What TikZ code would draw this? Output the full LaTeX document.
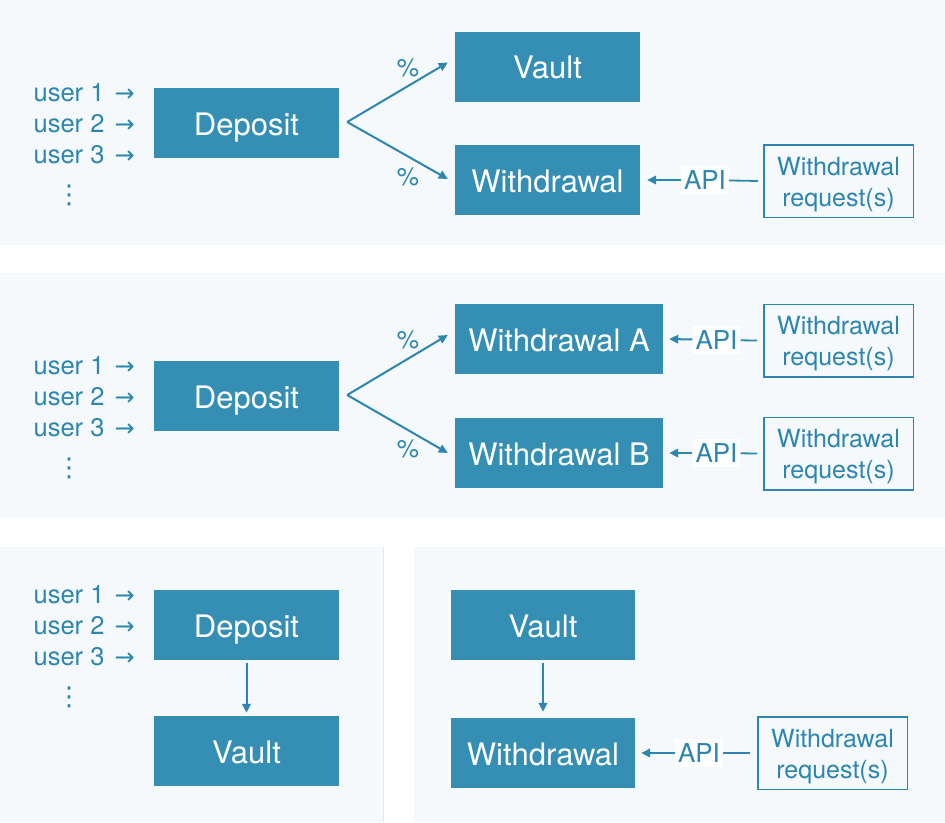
\documentclass[tikz,border=0pt]{standalone}
\usepackage{fontspec}
\setmainfont{TeX Gyre Heros}
\newfontfamily\symfont{DejaVu Sans}
\usetikzlibrary{arrows.meta}
\definecolor{boxblue}{HTML}{358FB4}
\definecolor{ink}{HTML}{2C86AF}
\definecolor{panelbg}{HTML}{F5F9FC}
\definecolor{panelline}{HTML}{E2EAF0}
\newcommand{\usr}[1]{user #1\hspace{0.4em}{\symfont\fontsize{24}{28}\selectfont →}}
\begin{document}
\begin{tikzpicture}[x=1pt,y=-1pt,
  box/.style={fill=boxblue, text=white, font=\fontsize{31}{34}\selectfont,
    minimum height=70pt, minimum width=185pt, inner sep=0pt,
    text height=24pt, text depth=0pt},
  req/.style={draw=ink, line width=1.5pt, text=ink, font=\fontsize{25}{31}\selectfont,
    align=center, minimum width=149.5pt, minimum height=72.5pt, inner sep=0pt,
    text height=55pt, text depth=5pt},
  api/.style={fill=white, text=ink, font=\fontsize{26}{28}\selectfont,
    inner xsep=3pt, inner ysep=5pt},
  user/.style={text=ink, font=\fontsize{25.5}{28}\selectfont, anchor=base east, inner sep=0pt},
  dots/.style={text=ink, font=\symfont\fontsize{26}{28}\selectfont, inner sep=0pt},
  pct/.style={text=ink, font=\fontsize{25}{28}\selectfont, inner sep=0pt},
  arr/.style={draw=ink, line width=2pt, -{Triangle[length=9pt,width=8.5pt]}},
  ln/.style={draw=ink, line width=1.8pt}
]
\useasboundingbox (0,0) rectangle (945,822);
\fill[white] (0,0) rectangle (945,822);
% panels
\fill[panelbg] (0,0) rectangle (945,245);
\fill[panelbg] (0,273) rectangle (945,518);
\fill[panelbg] (0,547) rectangle (383,822);
\draw[panelline, line width=1pt] (383,547) -- (383,822);
\fill[panelbg] (414,547) rectangle (945,822);

% ---------- panel 1 ----------
\node[user] (u11) at (135,101) {\usr{1}};
\node[user] (u12) at (135,132) {\usr{2}};
\node[user] (u13) at (135,163) {\usr{3}};
\node[dots] (d1) at (69,195) {⋮};
\node[box] (dep1) at (246.5,123) {Deposit};
\node[box] (vault1) at (547.5,66.5) {Vault};
\node[box] (wd1) at (547.5,180) {Withdrawal};
\node[req] (req1) at (838.5,181) {Withdrawal\\request(s)};
\node[api] (api1) at (705,180) {API};
\coordinate (f1) at ([xshift=8pt,yshift=1pt]dep1.east);
\draw[arr] (f1) -- ([xshift=-7pt,yshift=4pt]vault1.west);
\draw[arr] (f1) -- ([xshift=-7pt,yshift=1pt]wd1.west);
\node[pct] (p11) at (408,68) {\%};
\node[pct] (p12) at (408,177) {\%};
\draw[arr] (api1) -- ([xshift=7pt]wd1.east);
\draw[ln] (api1) -- ([xshift=-5pt]req1.west);

% ---------- panel 2 ----------
\node[user] (u21) at (135,374) {\usr{1}};
\node[user] (u22) at (135,405) {\usr{2}};
\node[user] (u23) at (135,436) {\usr{3}};
\node[dots] (d2) at (69,468) {⋮};
\node[box] (dep2) at (246.5,396) {Deposit};
\node[box, minimum width=208pt] (wdA) at (559,339) {Withdrawal A};
\node[box, minimum width=208pt] (wdB) at (559,453) {Withdrawal B};
\node[req] (reqA) at (838.5,340.5) {Withdrawal\\request(s)};
\node[req] (reqB) at (838.5,453.5) {Withdrawal\\request(s)};
\node[api] (apiA) at (716.5,340) {API};
\node[api] (apiB) at (716.5,453) {API};
\coordinate (f2) at ([xshift=8pt,yshift=1pt]dep2.east);
\draw[arr] (f2) -- ([xshift=-7pt,yshift=4pt]wdA.west);
\draw[arr] (f2) -- ([xshift=-7pt]wdB.west);
\node[pct] (p21) at (408,340) {\%};
\node[pct] (p22) at (408,449) {\%};
\draw[arr] (apiA) -- ([xshift=6pt]wdA.east);
\draw[ln] (apiA) -- ([xshift=-6pt]reqA.west);
\draw[arr] (apiB) -- ([xshift=6pt]wdB.east);
\draw[ln] (apiB) -- ([xshift=-6pt]reqB.west);

% ---------- panel 3 left ----------
\node[user] (u31) at (135,603) {\usr{1}};
\node[user] (u32) at (135,634) {\usr{2}};
\node[user] (u33) at (135,665) {\usr{3}};
\node[dots] (d3) at (69,697) {⋮};
\node[box] (dep3) at (246.5,625) {Deposit};
\node[box] (vault3) at (246.5,751) {Vault};
\draw[arr] ([yshift=-3pt]dep3.south) -- ([yshift=3pt]vault3.north);

% ---------- panel 3 right ----------
\node[box, minimum width=184pt] (vault4) at (543,625) {Vault};
\node[box, minimum width=184pt] (wd4) at (543,753) {Withdrawal};
\node[req] (req4) at (832.5,753) {Withdrawal\\request(s)};
\node[api] (api4) at (699,753) {API};
\draw[arr] ([yshift=-3pt]vault4.south) -- ([yshift=6pt]wd4.north);
\draw[arr] (api4) -- ([xshift=6pt]wd4.east);
\draw[ln] (api4) -- ([xshift=-7pt]req4.west);
\end{tikzpicture}
\end{document}
